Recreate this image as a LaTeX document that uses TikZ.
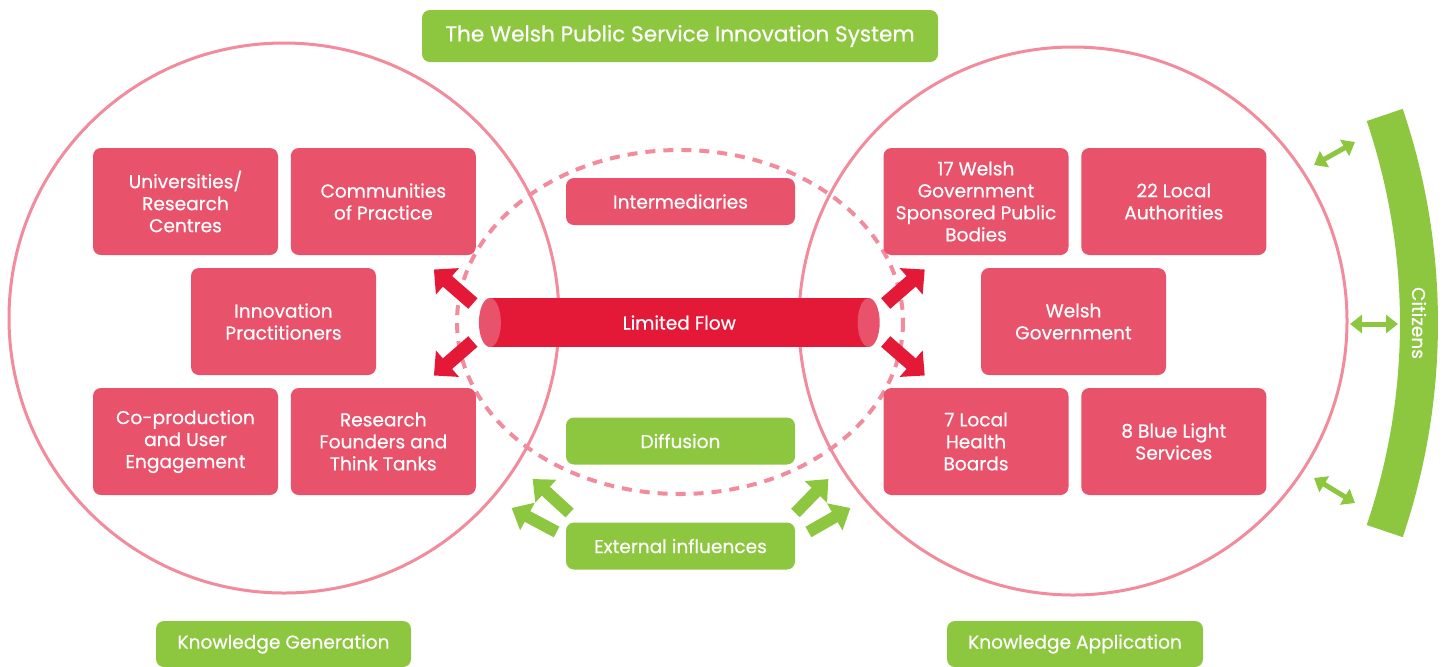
\documentclass[tikz,border=0pt]{standalone}
\usepackage{fontspec}
\setmainfont{Poppins}[FakeBold=0.5]
\usetikzlibrary{arrows.meta}
\usetikzlibrary{positioning}
\usetikzlibrary{shapes}
\definecolor{boxred}{HTML}{E8526A}
\definecolor{flowred}{HTML}{E31937}
\definecolor{ringpink}{HTML}{F28B9B}
\definecolor{leafgreen}{HTML}{8DC63F}
\tikzset{block/.style={fill=boxred, rounded corners=4pt, text=white, align=center, font=\fontsize{9.3}{11}\selectfont, minimum width=92.5pt, minimum height=53.5pt, inner sep=0pt}}
\tikzset{tag/.style={fill=leafgreen, rounded corners=4pt, text=white, align=center, font=\fontsize{9.3}{11}\selectfont, minimum width=114.5pt, minimum height=23.5pt, inner sep=0pt}}
\tikzset{ring/.style={draw=ringpink, line width=1.5pt}}
\tikzset{redarrow/.style={draw=flowred, line width=7pt, -{Triangle[length=9pt,width=17pt]}}}
\tikzset{greenarrow/.style={draw=leafgreen, line width=6pt, -{Triangle[length=9pt,width=15pt]}}}
\tikzset{dblarrow/.style={draw=leafgreen, line width=2.5pt, {Triangle[length=6pt,width=9pt]}-{Triangle[length=6pt,width=9pt]}}}

\begin{document}
\begin{tikzpicture}[x=0.5pt,y=-0.5pt]
\useasboundingbox (0,0) rectangle (1451,666);

%knowledge circles
\draw[ring] (284,318) circle (275);
\draw[ring] (1073,321) circle (274);
\draw[ring,line width=2pt,dash pattern=on 5pt off 4pt] (680,322) ellipse (223 and 172);

%title
\node[tag,minimum width=258pt,minimum height=26pt,font=\fontsize{10.8}{12}\selectfont] (title) at (680,36) {The Welsh Public Service Innovation System};

%knowledge generation
\node[block] (univ) at (185.5,201.5) {Universities/\\Research\\Centres};
\node[block,right=6pt of univ] (commun) {Communities\\of Practice};
\node[block] (innov) at (283.5,321.5) {Innovation\\Practitioners};
\node[block] (coprod) at (185.5,441.5) {Co-production\\and User\\Engagement};
\node[block,right=6pt of coprod] (founders) {Research\\Founders and\\Think Tanks};

%knowledge application
\node[block] (bodies) at (976,201.5) {17 Welsh\\Government\\Sponsored Public\\Bodies};
\node[block,right=6pt of bodies] (authorities) {22 Local\\Authorities};
\node[block] (welshgov) at (1073.5,321.5) {Welsh\\Government};
\node[block] (health) at (976,441.5) {7 Local\\Health\\Boards};
\node[block,right=6pt of health] (bluelight) {8 Blue Light\\Services};

%middle
\node[block,minimum width=114.5pt,minimum height=23.5pt] (inter) at (680.5,201.5) {Intermediaries};
\node[tag] (diffusion) at (680.5,441) {Diffusion};
\node[tag] (external) at (680.5,546) {External influences};

%limited flow pipe
\node[fill=flowred,text=white,font=\fontsize{9.3}{11}\selectfont,minimum width=189pt,minimum height=24.5pt,inner sep=0pt] (flow) at (679.3,322.5) {Limited Flow};
\fill[boxred] (flow.west) ellipse (11 and 24.5);
\fill[boxred] (flow.east) ellipse (11 and 24.5);

%flow out of the pipe
\draw[redarrow] ([shift={(-17,-19)}]flow.west) -- ++(-39,-34);
\draw[redarrow] ([shift={(-17,19)}]flow.west) -- ++(-39,34);
\draw[redarrow] ([shift={(17,-19)}]flow.east) -- ++(39,-34);
\draw[redarrow] ([shift={(17,19)}]flow.east) -- ++(39,34);

%external influences
\draw[greenarrow] ([shift={(4,-33)}]external.west) -- ++(-37,-34);
\draw[greenarrow] ([shift={(-9,-14)}]external.west) -- ++(-45,-24);
\draw[greenarrow] ([shift={(0,-33)}]external.east) -- ++(33,-34);
\draw[greenarrow] ([shift={(13,-14)}]external.east) -- ++(42,-24);

%citizens
\coordinate (arccentre) at (770,323);
\fill[leafgreen] ([shift={(-18.7:630)}]arccentre) arc[start angle=-18.7,end angle=18.7,radius=630]
  -- ([shift={(18.7:668)}]arccentre) arc[start angle=18.7,end angle=-18.7,radius=668] -- cycle;
\node[rotate=-90,text=white,font=\fontsize{9.3}{11}\selectfont] (citizens) at (1419,323) {Citizens};
\draw[dblarrow] (1314,165) -- (1355,142);
\draw[dblarrow] (1350,324) -- (1398,324);
\draw[dblarrow] (1314,478) -- (1355,503);

%labels
\node[tag,minimum width=127.5pt,minimum height=23pt] (kgen) at (283.5,644) {Knowledge Generation};
\node[tag,minimum width=128pt,minimum height=23pt] (kapp) at (1075,644) {Knowledge Application};

\end{tikzpicture}
\end{document}
